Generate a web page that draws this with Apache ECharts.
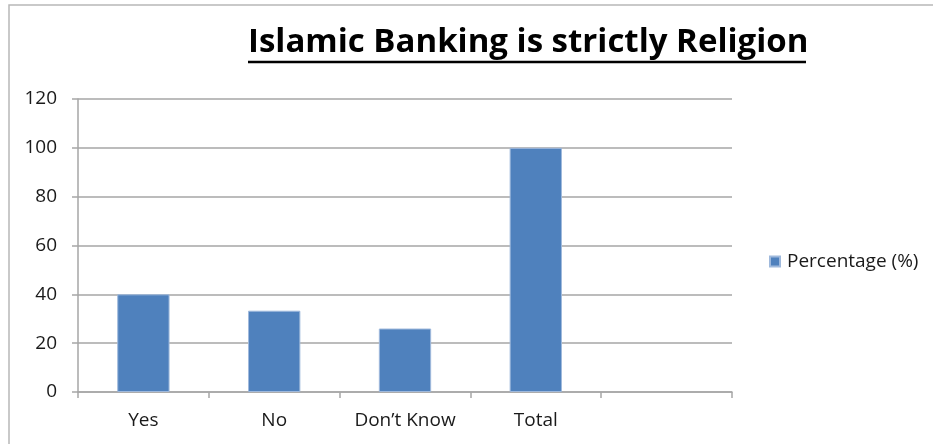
<!DOCTYPE html>
<html>
<head>
<meta charset="utf-8">
<script src="https://cdn.jsdelivr.net/npm/echarts@6/dist/echarts.min.js"></script>
<style>
  html, body { margin: 0; padding: 0; background: #fff; }
  #chart { width: 933px; height: 444px; }
</style>
</head>
<body>
<div id="chart"></div>
<script>
// survey answers, in percent; last slot is an empty category as in the source
const categories = ["Yes", "No", "Don\u2019t Know", "Total", ""];
const percentage = [40, 33.3, 26, 100, null];
const yTicks = { min: 0, max: 120, interval: 20 };

const FONT = "'Open Sans', Lato, sans-serif";
const GRID_LINE = "#a6a6a6";

const chart = echarts.init(document.getElementById("chart"), null, { renderer: "canvas" });

chart.setOption({
  animation: false,
  backgroundColor: "#fff",
  textStyle: { fontFamily: FONT },
  title: {
    text: "Islamic Banking is strictly Religion",
    left: 248,
    top: 26,
    padding: 0,
    textStyle: { fontFamily: FONT, fontSize: 33, fontWeight: "bold", color: "#000" },
  },
  // frame + title underline (ECharts text has no text-decoration)
  graphic: [
    { type: "rect", silent: true, shape: { x: 9, y: 5, width: 1000, height: 500 },
      style: { fill: "none", stroke: "#b8b8b8", lineWidth: 1.5 } },
    { type: "line", silent: true, shape: { x1: 248, y1: 62, x2: 806, y2: 62 },
      style: { stroke: "#000", lineWidth: 2.5 } },
  ],
  legend: {
    left: 769,
    top: 252,
    padding: 0,
    itemWidth: 10,
    itemHeight: 10,
    icon: "rect",
    textStyle: { fontFamily: FONT, fontSize: 19, color: "#1a1a1a", padding: [0, 0, 0, 2] },
    data: ["Percentage (%)"],
  },
  grid: { left: 78, right: 201, top: 99, bottom: 52, containLabel: false },
  xAxis: {
    type: "category",
    data: categories,
    axisLine: { lineStyle: { color: GRID_LINE, width: 1.5 } },
    axisTick: { show: true, length: 6, lineStyle: { color: GRID_LINE, width: 1.5 } },
    axisLabel: { color: "#1a1a1a", fontSize: 19, fontFamily: FONT, margin: 19, interval: 0 },
  },
  yAxis: {
    type: "value",
    min: yTicks.min,
    max: yTicks.max,
    interval: yTicks.interval,
    axisLine: { show: true, lineStyle: { color: GRID_LINE, width: 1.5 } },
    axisTick: { show: true, length: 6, lineStyle: { color: GRID_LINE, width: 1.5 } },
    axisLabel: { color: "#1a1a1a", fontSize: 19, fontFamily: FONT, margin: 21 },
    splitLine: { lineStyle: { color: GRID_LINE, width: 1.5 } },
  },
  series: [{
    name: "Percentage (%)",
    type: "bar",
    data: percentage,
    barWidth: "40%",
    itemStyle: { color: "#4f81bd", borderColor: "#9fb9dc", borderWidth: 1 },
  }],
});
</script>
</body>
</html>
